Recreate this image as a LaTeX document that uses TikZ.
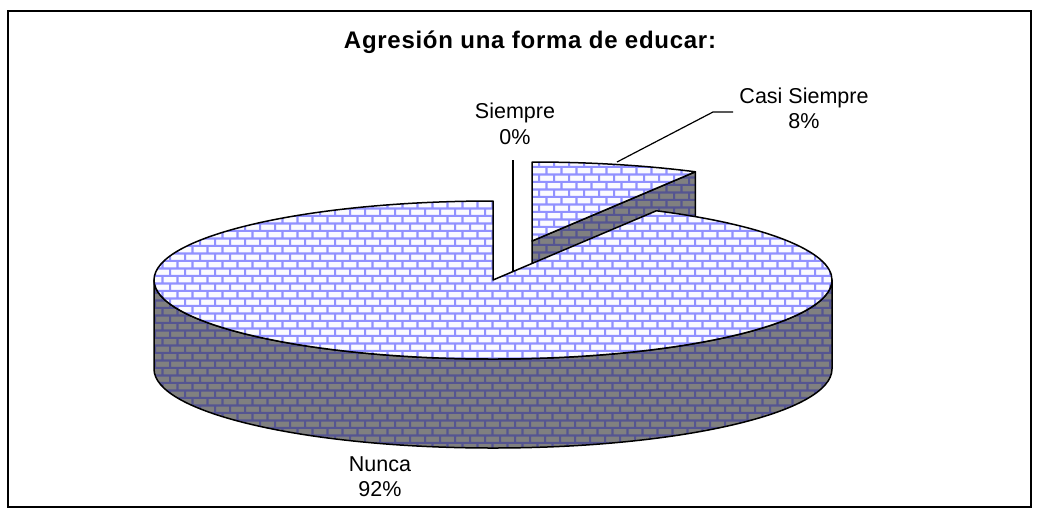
\documentclass[tikz,border=0pt]{standalone}
\usepackage{fontspec}
\setmainfont{Liberation Sans}
\usetikzlibrary{patterns}
\definecolor{topbrick}{RGB}{250,250,255}
\definecolor{topmortar}{RGB}{145,145,255}
\definecolor{sidebrick}{RGB}{128,128,128}
\definecolor{sidemortar}{RGB}{85,85,145}
\pgfdeclarepatterninherentlycolored{topbricks}{\pgfpointorigin}{\pgfpoint{15.4pt}{15.4pt}}{\pgfpoint{15.4pt}{15.4pt}}{%
  \pgfsetfillcolor{topbrick}%
  \pgfpathrectangle{\pgfpointorigin}{\pgfpoint{15.4pt}{15.4pt}}\pgfusepath{fill}%
  \pgfsetstrokecolor{topmortar}\pgfsetlinewidth{2.2pt}%
  \pgfpathmoveto{\pgfpoint{0pt}{1.1pt}}\pgfpathlineto{\pgfpoint{15.4pt}{1.1pt}}%
  \pgfpathmoveto{\pgfpoint{0pt}{8.8pt}}\pgfpathlineto{\pgfpoint{15.4pt}{8.8pt}}%
  \pgfpathmoveto{\pgfpoint{1.1pt}{0pt}}\pgfpathlineto{\pgfpoint{1.1pt}{8.8pt}}%
  \pgfpathmoveto{\pgfpoint{8.8pt}{8.8pt}}\pgfpathlineto{\pgfpoint{8.8pt}{15.4pt}}%
  \pgfusepath{stroke}}
\pgfdeclarepatterninherentlycolored{sidebricks}{\pgfpointorigin}{\pgfpoint{15.4pt}{15.4pt}}{\pgfpoint{15.4pt}{15.4pt}}{%
  \pgfsetfillcolor{sidebrick}%
  \pgfpathrectangle{\pgfpointorigin}{\pgfpoint{15.4pt}{15.4pt}}\pgfusepath{fill}%
  \pgfsetstrokecolor{sidemortar}\pgfsetlinewidth{2.2pt}%
  \pgfpathmoveto{\pgfpoint{0pt}{1.1pt}}\pgfpathlineto{\pgfpoint{15.4pt}{1.1pt}}%
  \pgfpathmoveto{\pgfpoint{0pt}{8.8pt}}\pgfpathlineto{\pgfpoint{15.4pt}{8.8pt}}%
  \pgfpathmoveto{\pgfpoint{1.1pt}{0pt}}\pgfpathlineto{\pgfpoint{1.1pt}{8.8pt}}%
  \pgfpathmoveto{\pgfpoint{8.8pt}{8.8pt}}\pgfpathlineto{\pgfpoint{8.8pt}{15.4pt}}%
  \pgfusepath{stroke}}
\begin{document}
\begin{tikzpicture}[x=1pt,y=-1pt,
  topface/.style={pattern=topbricks,draw=black,line width=1.5pt,line join=round},
  sideface/.style={pattern=sidebricks,draw=black,line width=1.5pt,line join=round},
  lbl/.style={align=center,inner sep=0pt,font=\fontsize{21.5}{25.5}\selectfont},
  leader/.style={draw=black,line width=1.2pt}]
\useasboundingbox (0,0) rectangle (1040,520);
\draw[line width=1.6pt] (8,11) rectangle (1031,507);
\node[font=\fontsize{24}{28}\selectfont\bfseries\addfontfeature{LetterSpace=3}] (title) at (530,42) {Agresión una forma de educar:};
% exploded slice (Casi Siempre)
\draw[sideface] (532,241) -- (695.3,171.8) -- (695.3,260.8) -- (532,330) -- cycle;
\draw[topface] (532,241) -- (532,162) arc[start angle=270,end angle=298.8,x radius=339,y radius=79] -- cycle;
% zero slice (Siempre)
\coordinate (ztop) at (513,160);
\coordinate (zbot) at (513,272);
\draw[line width=1.4pt] (ztop) -- (zbot);
% big slice (Nunca)
\draw[sideface] (154,280) -- (154,369) arc[start angle=180,end angle=0,x radius=339,y radius=79] -- (832,280) arc[start angle=0,end angle=180,x radius=339,y radius=79] -- cycle;
\draw[topface] (493,280) -- (493,201) arc[start angle=270,end angle=-61.2,x radius=339,y radius=79] -- cycle;
% labels
\node[lbl] (siempre) at (515,124) {Siempre\\0\%};
\node[lbl] (casi) at (804,108.5) {Casi Siempre\\8\%};
\node[lbl] (nunca) at (380,476.5) {Nunca\\92\%};
\coordinate (casitip) at (617,162);
\coordinate (casielbow) at (713,112);
\coordinate (casiend) at (733,112);
\draw[leader] (casitip) -- (casielbow) -- (casiend);
\end{tikzpicture}
\end{document}
